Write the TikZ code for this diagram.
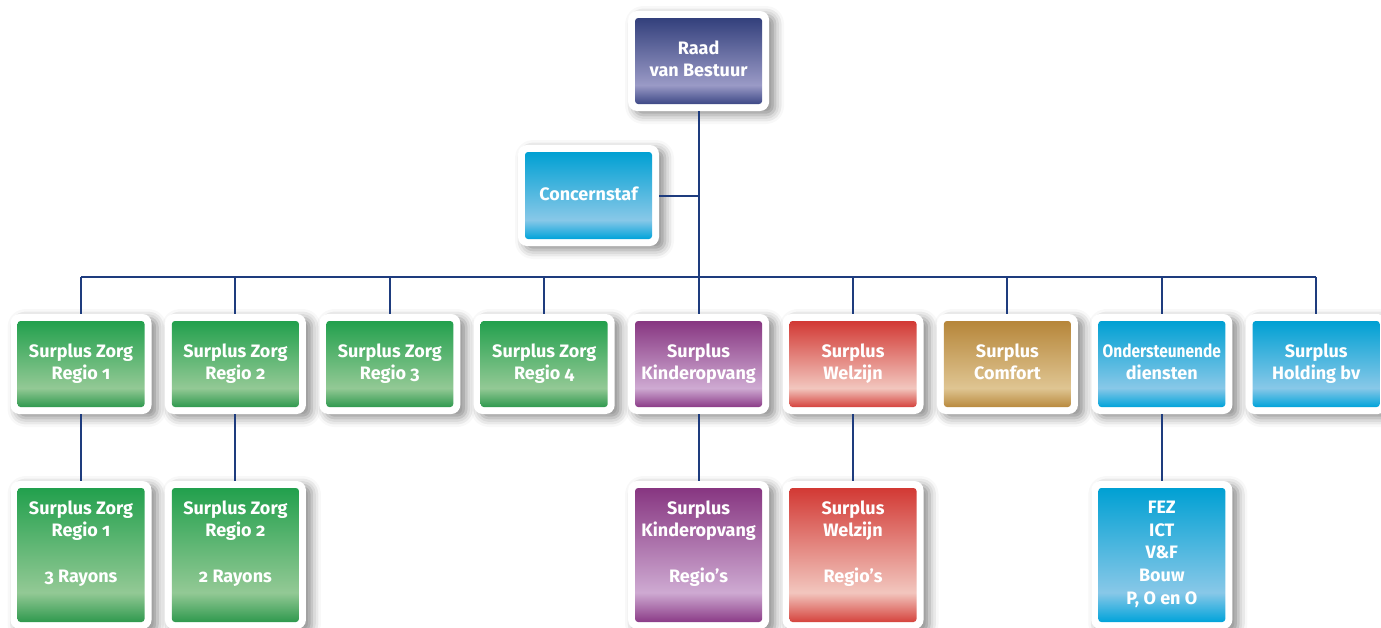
\documentclass[tikz,border=0pt]{standalone}
\usepackage{fontspec}
\setmainfont{Fira Sans}[Numbers=OldStyle]
\newfontfamily\condfont{Fira Sans}[Numbers=OldStyle, FakeStretch=0.86]
\usetikzlibrary{shadows.blur}
\definecolor{linec}{HTML}{1E3C7E}
\definecolor{navyB}{HTML}{3D4886}\definecolor{navyL}{HTML}{9A9AC6}\definecolor{navyT}{HTML}{33407C}
\definecolor{blueB}{HTML}{00A3DA}\definecolor{blueL}{HTML}{88C8E8}\definecolor{blueT}{HTML}{00A0D3}
\definecolor{greenB}{HTML}{2F994E}\definecolor{greenL}{HTML}{93C995}\definecolor{greenT}{HTML}{22A04D}
\definecolor{purpB}{HTML}{8B3B87}\definecolor{purpL}{HTML}{CEAAD2}\definecolor{purpT}{HTML}{873681}
\definecolor{redB}{HTML}{D5433D}\definecolor{redL}{HTML}{F2C6BE}\definecolor{redT}{HTML}{D23934}
\definecolor{goldB}{HTML}{B98A3E}\definecolor{goldL}{HTML}{DFC592}\definecolor{goldT}{HTML}{B6863A}
\pgfdeclareverticalshading{navysh}{100bp}{color(0bp)=(navyB); color(25bp)=(navyB); color(36bp)=(navyL); color(75bp)=(navyT); color(100bp)=(navyT)}
\pgfdeclareverticalshading{bluesh}{100bp}{color(0bp)=(blueB); color(25bp)=(blueB); color(36bp)=(blueL); color(75bp)=(blueT); color(100bp)=(blueT)}
\pgfdeclareverticalshading{greensh}{100bp}{color(0bp)=(greenB); color(25bp)=(greenB); color(36bp)=(greenL); color(75bp)=(greenT); color(100bp)=(greenT)}
\pgfdeclareverticalshading{purpsh}{100bp}{color(0bp)=(purpB); color(25bp)=(purpB); color(36bp)=(purpL); color(75bp)=(purpT); color(100bp)=(purpT)}
\pgfdeclareverticalshading{redsh}{100bp}{color(0bp)=(redB); color(25bp)=(redB); color(36bp)=(redL); color(75bp)=(redT); color(100bp)=(redT)}
\pgfdeclareverticalshading{goldsh}{100bp}{color(0bp)=(goldB); color(25bp)=(goldB); color(36bp)=(goldL); color(75bp)=(goldT); color(100bp)=(goldT)}
\tikzset{
  outerbox/.style={fill=white, rounded corners=9pt, minimum width=141pt, inner sep=0pt,
    blur shadow={shadow xshift=6pt, shadow yshift=-4pt, shadow blur radius=9pt, shadow opacity=45}},
  innerbox/.style={rounded corners=3pt, minimum width=127pt, inner sep=0pt, text=white,
    font=\fontsize{18}{22.7}\selectfont\bfseries, align=center, text depth=4.5pt},
  conn/.style={draw=linec, line width=2pt}
}
\newcommand\orgbox[7]{%
  \node[outerbox, minimum height=#5] (#1) at (#2,#3) {};
  \node[innerbox, minimum height=#4, shading=#6] (#1-in) at (#2,#3) {#7};
}
\begin{document}
\begin{tikzpicture}[x=1pt,y=-1pt]
\useasboundingbox (0,0) rectangle (1381,627);
% top
\orgbox{raad}{698.6}{61}{86pt}{100pt}{navysh}{Raad\\van Bestuur}
\orgbox{staf}{588.5}{195.5}{87pt}{101pt}{bluesh}{Concernstaf}
% row 1
\orgbox{z1}{81.0}{364}{86pt}{100pt}{greensh}{Surplus Zorg\\Regio 1}
\orgbox{z2}{235.4}{364}{86pt}{100pt}{greensh}{Surplus Zorg\\Regio 2}
\orgbox{z3}{389.8}{364}{86pt}{100pt}{greensh}{Surplus Zorg\\Regio 3}
\orgbox{z4}{544.2}{364}{86pt}{100pt}{greensh}{Surplus Zorg\\Regio 4}
\orgbox{ko}{698.6}{364}{86pt}{100pt}{purpsh}{Surplus\\Kinderopvang}
\orgbox{wz}{853.0}{364}{86pt}{100pt}{redsh}{Surplus\\Welzijn}
\orgbox{cf}{1007.4}{364}{86pt}{100pt}{goldsh}{Surplus\\Comfort}
\orgbox{od}{1161.8}{364}{86pt}{100pt}{bluesh}{{\condfont\bfseries Ondersteunende}\\diensten}
\orgbox{hd}{1316.2}{364}{86pt}{100pt}{bluesh}{Surplus\\Holding bv}
% row 2
\orgbox{z1b}{81.0}{555}{134pt}{148pt}{greensh}{Surplus Zorg\\Regio 1\\~\\3 Rayons\\~}
\orgbox{z2b}{235.4}{555}{134pt}{148pt}{greensh}{Surplus Zorg\\Regio 2\\~\\2 Rayons\\~}
\orgbox{kob}{698.6}{555}{134pt}{148pt}{purpsh}{Surplus\\Kinderopvang\\~\\Regio’s\\~}
\orgbox{wzb}{853.0}{555}{134pt}{148pt}{redsh}{Surplus\\Welzijn\\~\\Regio’s\\~}
\orgbox{odb}{1161.8}{555}{134pt}{148pt}{bluesh}{FEZ\\ICT\\V\&F\\Bouw\\P, O en O}
% connectors
\coordinate (busL) at (81.0,276.5);
\coordinate (busR) at (1316.2,276.5);
\draw[conn] (busL) -- (busR);
\draw[conn] (raad.south) -- (raad.south |- busL);
\draw[conn] (staf.east) -- (staf.east -| raad.south);
\foreach \n in {z1,z2,z3,z4,ko,wz,cf,od,hd}{
  \draw[conn] (\n.north) -- (\n.north |- busL);
}
\draw[conn] (z1.south) -- (z1b.north);
\draw[conn] (z2.south) -- (z2b.north);
\draw[conn] (ko.south) -- (kob.north);
\draw[conn] (wz.south) -- (wzb.north);
\draw[conn] (od.south) -- (odb.north);
\end{tikzpicture}
\end{document}
